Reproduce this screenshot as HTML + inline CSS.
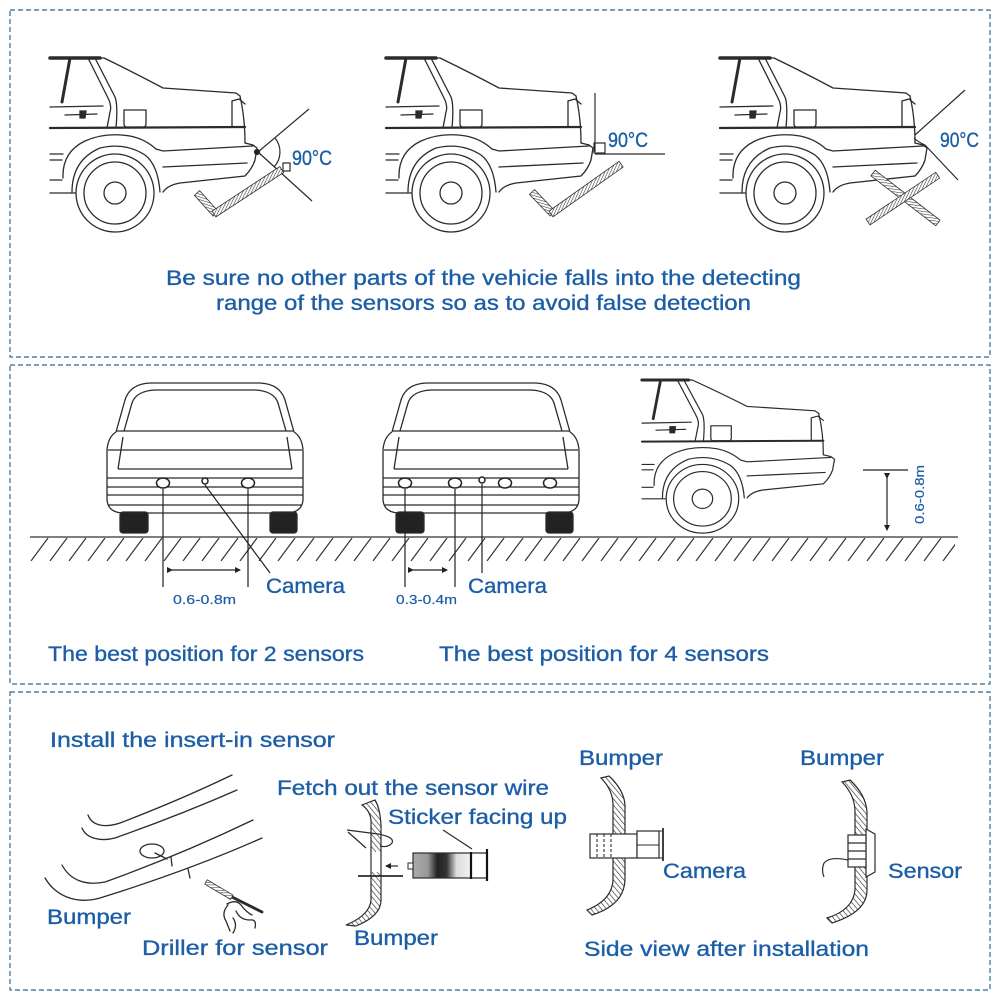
<!DOCTYPE html>
<html><head><meta charset="utf-8"><style>
html,body{margin:0;padding:0;background:#fff;}
svg{display:block;}
text{font-family:"Liberation Sans","DejaVu Sans",sans-serif;fill:#1c5ea6;stroke:#1c5ea6;stroke-width:0.35px;}
</style></head><body>
<svg width="1000" height="1000" viewBox="0 0 1000 1000" xmlns="http://www.w3.org/2000/svg">
<defs>
 <pattern id="hb" width="2.6" height="2.6" patternUnits="userSpaceOnUse" patternTransform="rotate(60)">
  <rect width="2.6" height="2.6" fill="#fff"/>
  <line x1="0" y1="0" x2="0" y2="2.6" stroke="#333" stroke-width="1.1"/>
 </pattern>
 <pattern id="hs" width="4" height="4" patternUnits="userSpaceOnUse" patternTransform="rotate(-40)">
  <rect width="4" height="4" fill="#fff"/>
  <line x1="0" y1="0" x2="0" y2="4" stroke="#333" stroke-width="1.3"/>
 </pattern>
 <pattern id="gh" x="30" y="538" width="19" height="23" patternUnits="userSpaceOnUse">
  <line x1="1" y1="23" x2="18" y2="0" stroke="#333" stroke-width="1.2"/>
 </pattern>
 <linearGradient id="cyl" x1="0" x2="1" y1="0" y2="0">
  <stop offset="0" stop-color="#aaa"/>
  <stop offset="0.25" stop-color="#999"/>
  <stop offset="0.42" stop-color="#222"/>
  <stop offset="0.58" stop-color="#333"/>
  <stop offset="0.75" stop-color="#ddd"/>
  <stop offset="1" stop-color="#f2f2f2"/>
 </linearGradient>
 <marker id="ar" markerWidth="6" markerHeight="6" refX="5" refY="3" orient="auto" markerUnits="userSpaceOnUse">
  <path d="M0,0 L6,3 L0,6 Z" fill="#222"/>
 </marker>
 <g id="side" fill="none" stroke="#2b2b2b" stroke-width="1.3" stroke-linecap="round">
  <path d="M50,58 L100,58" stroke-width="3.5"/>
  <path d="M100,58 L104,58 Q135,73 163,88 L236,93 L240,96"/>
  <path d="M240,96 Q245,118 245,143"/>
  <path d="M70,58 L62,102" stroke-width="3"/>
  <path d="M88,58 L108,98 Q112,106 110,112 L107,128"/>
  <path d="M95,58 L115,97 Q118,104 116,128"/>
  <path d="M50,107 L103,106"/>
  <path d="M65,115 L97,114"/>
  <path d="M80,111 L86,111 L85,118 L80,118Z" fill="#2b2b2b"/>
  <path d="M50,128 L245,127" stroke-width="2.2"/>
  <path d="M124,110 L146,110 L146,124 Q146,127 143,127 L127,127 Q124,127 124,124 Z"/>
  <path d="M232,127 L232,101 L239,99 L245,104"/>
  <path d="M50,154 L63,154 M50,160 L62,160 M50,180 L62,180 M50,193 L75,193"/>
  <path d="M63,178 Q62,152 85,141 Q105,132 130,136 Q145,139 156,149 L163,151 L253,146"/>
  <path d="M72,192 Q72,160 100,148 Q125,142 145,155 Q158,165 160,192"/>
  <path d="M163,167 L247,163"/>
  <path d="M163,192 Q168,185 180,183 L245,176 Q252,169 255,160 L257,148 L253,145 L245,143"/>
  <circle cx="115" cy="193" r="39"/>
  <circle cx="115" cy="193" r="31"/>
  <circle cx="115" cy="193" r="11"/>
 </g>
 <g id="rear" fill="none" stroke="#2b2b2b" stroke-width="1.3">
  <path d="M116,432 L125,400 Q130,384 150,383 L260,383 Q280,384 285,400 L294,432"/>
  <path d="M124,431 L132,403 Q136,391 155,390 L255,390 Q274,391 278,403 L286,431"/>
  <path d="M116,432 Q108,437 107,450 L107,500 Q108,512 122,513 L288,513 Q302,512 303,500 L303,450 Q302,437 294,432"/>
  <path d="M116,431 L294,431 M108,450 L302,450 M118,469 L292,469 M123,437 L118,469 M287,437 L292,469"/>
  <path d="M107,478 L303,478 M107,487 L303,487 M107,495 L303,495 M108,505 L302,505"/>
  <rect x="120" y="512" width="28" height="21" rx="3" fill="#222"/>
  <rect x="270" y="512" width="27" height="21" rx="3" fill="#222"/>
 </g>
</defs>

<!-- panel borders -->
<g fill="none" stroke="#2c6a92" stroke-width="1.2" stroke-dasharray="5,3">
 <rect x="10" y="10" width="980" height="347"/>
 <rect x="10" y="365" width="980" height="319"/>
 <rect x="10" y="692" width="980" height="298"/>
</g>

<!-- PANEL 1 -->
<use href="#side"/>
<use href="#side" transform="translate(336,0)"/>
<use href="#side" transform="translate(670,0)"/>

<g fill="none" stroke="#2b2b2b" stroke-width="1.2">
 <circle cx="257" cy="152" r="2.5" fill="#222"/>
 <path d="M258,152 L309,109 M258,152 L312,201"/>
 <path d="M275,138 A22,22 0 0 1 274,167"/>
 <rect x="283" y="163" width="7" height="8"/>
 <path d="M595,93 L595,152 M595,154 L665,154"/>
 <rect x="594" y="143" width="11" height="10"/>
 <path d="M915,135 L965,90 M925,145 L958,180 M914,138 Q918,142 925,145"/>
</g>
<g stroke="#333" stroke-width="0.8">
 <g transform="translate(197,193) rotate(47.9)"><rect x="0" y="-3.5" width="28" height="7" fill="url(#hb)"/></g>
 <g transform="translate(214,214) rotate(-33.3)"><rect x="0" y="-3.5" width="81" height="7" fill="url(#hb)"/></g>
 <g transform="translate(532,192) rotate(46.3)"><rect x="0" y="-3.5" width="30" height="7" fill="url(#hb)"/></g>
 <g transform="translate(551,214) rotate(-35.4)"><rect x="0" y="-3.5" width="86" height="7" fill="url(#hb)"/></g>
 <g transform="translate(873,173) rotate(37.6)"><rect x="0" y="-3.5" width="82" height="7" fill="url(#hb)"/></g>
 <g transform="translate(868,222) rotate(-33.9)"><rect x="0" y="-3.5" width="84" height="7" fill="url(#hb)"/></g>
</g>

<text x="292" y="165" font-size="21" textLength="40" lengthAdjust="spacingAndGlyphs">90°C</text>
<text x="608" y="147" font-size="21" textLength="40" lengthAdjust="spacingAndGlyphs">90°C</text>
<text x="940" y="147" font-size="21" textLength="39" lengthAdjust="spacingAndGlyphs">90°C</text>
<text x="166" y="285" font-size="21" textLength="635" lengthAdjust="spacingAndGlyphs">Be sure no other parts of the vehicie falls into the detecting</text>
<text x="216" y="310" font-size="21" textLength="535" lengthAdjust="spacingAndGlyphs">range of the sensors so as to avoid false detection</text>

<!-- PANEL 2 -->
<line x1="30" y1="537" x2="958" y2="537" stroke="#333" stroke-width="1.3"/>
<rect x="30" y="538" width="925" height="23" fill="url(#gh)"/>

<use href="#rear"/>
<use href="#rear" transform="translate(276,0)"/>

<g fill="#fff" stroke="#222" stroke-width="1.5">
 <ellipse cx="163" cy="483" rx="6.5" ry="5"/>
 <ellipse cx="248" cy="483" rx="6.5" ry="5"/>
 <circle cx="205" cy="481" r="3"/>
 <ellipse cx="405" cy="483" rx="6.5" ry="5"/>
 <ellipse cx="455" cy="483" rx="6.5" ry="5"/>
 <ellipse cx="505" cy="483" rx="6.5" ry="5"/>
 <ellipse cx="550" cy="483" rx="6.5" ry="5"/>
 <circle cx="482" cy="480" r="3"/>
</g>
<g fill="none" stroke="#222" stroke-width="1.2">
 <path d="M163,489 L163,587 M248,489 L248,587 M205,485 L270,573"/>
 <path d="M172,570 L240,570" marker-start="url(#ar)" marker-end="url(#ar)"/>
 <path d="M405,489 L405,587 M455,489 L455,587 M482,484 L482,573"/>
 <path d="M413,570 L447,570" marker-start="url(#ar)" marker-end="url(#ar)"/>
 <path d="M863,470 L908,470"/>
 <path d="M887,478 L887,530" marker-start="url(#ar)" marker-end="url(#ar)"/>
</g>

<use href="#side" transform="translate(642,380) scale(0.93,0.88) translate(-50,-58)"/>

<text x="266" y="593" font-size="21" textLength="79" lengthAdjust="spacingAndGlyphs">Camera</text>
<text x="468" y="593" font-size="21" textLength="79" lengthAdjust="spacingAndGlyphs">Camera</text>
<text x="173" y="604" font-size="13" textLength="63" lengthAdjust="spacingAndGlyphs" style="stroke-width:0.2px">0.6-0.8m</text>
<text x="396" y="604" font-size="13" textLength="61" lengthAdjust="spacingAndGlyphs" style="stroke-width:0.2px">0.3-0.4m</text>
<text transform="translate(924,524) rotate(-90)" font-size="13" textLength="59" lengthAdjust="spacingAndGlyphs" style="stroke-width:0.2px">0.6-0.8m</text>
<text x="48" y="661" font-size="21" textLength="316" lengthAdjust="spacingAndGlyphs">The best position for 2 sensors</text>
<text x="439" y="661" font-size="21" textLength="330" lengthAdjust="spacingAndGlyphs">The best position for 4 sensors</text>

<!-- PANEL 3 -->
<g fill="none" stroke="#2b2b2b" stroke-width="1.3" stroke-linecap="round">
 <path d="M88,815 C92,826 105,828 120,823 Q180,800 232,775"/>
 <path d="M82,828 C86,838 100,842 115,838 Q180,815 237,790"/>
 <path d="M62,865 C70,880 85,886 105,882 Q180,855 253,820"/>
 <path d="M45,878 C55,895 75,905 100,898 Q190,870 262,838"/>
 <ellipse cx="152" cy="851" rx="12" ry="7"/>
 <path d="M155,853 L167,859 M171,857 L172,866 M188,869 L190,878"/>
 <path d="M232,897 L262,912" stroke-width="2.8"/>
 <path d="M228,905 Q221,913 226,921 L230,931 M227,904 Q236,899 241,905 Q246,912 252,915 M236,911 Q240,920 250,920 Q257,919 255,928 M233,918 Q238,925 233,933"/>
</g>
<g transform="translate(206,882) rotate(30.6)" stroke="#333" stroke-width="0.8"><rect x="0" y="-2.5" width="30" height="5" fill="url(#hb)"/></g>

<path d="M362,805 Q372,812 371,825 L371,900 Q370,915 346,925 L356,926 Q381,916 381,900 L381,825 Q380,808 375,800 Z" fill="url(#hs)" stroke="#2b2b2b" stroke-width="1.2"/>
<rect x="370" y="852" width="12" height="20" fill="#fff"/>
<path d="M371,852 L371,872 M381,852 L381,872" stroke="#2b2b2b" stroke-width="1.2"/>
<g fill="none" stroke="#2b2b2b" stroke-width="1.2">
 <path d="M358,876 L403,876" stroke-width="1.8"/>
 <path d="M398,866 L386,866" marker-end="url(#ar)"/>
 <path d="M348,832 L366,848 M347,830 L378,834 Q395,837 392,843 Q388,848 380,846"/>
 <path d="M443,830 L472,849"/>
</g>
<rect x="413" y="853" width="58" height="25" fill="url(#cyl)" stroke="#2b2b2b" stroke-width="1.2"/>
<path d="M471,853 L487,853 M471,878 L487,878" stroke="#2b2b2b" stroke-width="1.2"/>
<path d="M471,852 L471,879" stroke="#111" stroke-width="2.2"/>
<path d="M487,849 L487,881" stroke="#111" stroke-width="2.2"/>
<rect x="408" y="863" width="5" height="6" fill="#fff" stroke="#2b2b2b" stroke-width="1"/>

<path d="M601,778 Q613,790 613,805 L613,880 Q612,900 587,910 L592,915 Q624,905 625,880 L625,805 Q624,790 609,776 Z" fill="url(#hs)" stroke="#2b2b2b" stroke-width="1.2"/>
<g fill="#fff" stroke="#2b2b2b" stroke-width="1.2">
 <rect x="590" y="834" width="47" height="24"/>
 <rect x="637" y="831" width="22" height="27"/>
</g>
<g fill="none" stroke="#2b2b2b" stroke-width="1.1">
 <path d="M597,834 L597,858 M604,834 L604,858 M611,834 L611,858" stroke-dasharray="3,2"/>
 <path d="M637,845 L659,845"/>
 <path d="M663,828 L663,861" stroke-width="1.8"/>
 <path d="M659,831 L663,831 M659,858 L663,858"/>
</g>

<path d="M842,782 Q855,795 855,812 L855,890 Q853,910 827,918 L832,923 Q867,912 867,890 L867,812 Q866,795 850,780 Z" fill="url(#hs)" stroke="#2b2b2b" stroke-width="1.2"/>
<g fill="#fff" stroke="#2b2b2b" stroke-width="1.2">
 <path d="M866,829 L875,834 L875,872 L866,877 Z"/>
 <rect x="848" y="835" width="18" height="32"/>
</g>
<g fill="none" stroke="#2b2b2b" stroke-width="1.2">
 <path d="M848,843 L866,843 M848,851 L866,851 M848,859 L866,859"/>
 <path d="M848,860 Q830,856 824,863 Q821,870 824,877"/>
</g>

<text x="50" y="747" font-size="21" textLength="285" lengthAdjust="spacingAndGlyphs">Install the insert-in sensor</text>
<text x="277" y="795" font-size="21" textLength="272" lengthAdjust="spacingAndGlyphs">Fetch out the sensor wire</text>
<text x="388" y="824" font-size="21" textLength="179" lengthAdjust="spacingAndGlyphs">Sticker facing up</text>
<text x="579" y="765" font-size="21" textLength="84" lengthAdjust="spacingAndGlyphs">Bumper</text>
<text x="800" y="765" font-size="21" textLength="84" lengthAdjust="spacingAndGlyphs">Bumper</text>
<text x="663" y="878" font-size="21" textLength="83" lengthAdjust="spacingAndGlyphs">Camera</text>
<text x="888" y="878" font-size="21" textLength="74" lengthAdjust="spacingAndGlyphs">Sensor</text>
<text x="47" y="924" font-size="21" textLength="84" lengthAdjust="spacingAndGlyphs">Bumper</text>
<text x="142" y="955" font-size="21" textLength="186" lengthAdjust="spacingAndGlyphs">Driller for sensor</text>
<text x="354" y="945" font-size="21" textLength="84" lengthAdjust="spacingAndGlyphs">Bumper</text>
<text x="584" y="956" font-size="21" textLength="285" lengthAdjust="spacingAndGlyphs">Side view after installation</text>
</svg>
</body></html>
